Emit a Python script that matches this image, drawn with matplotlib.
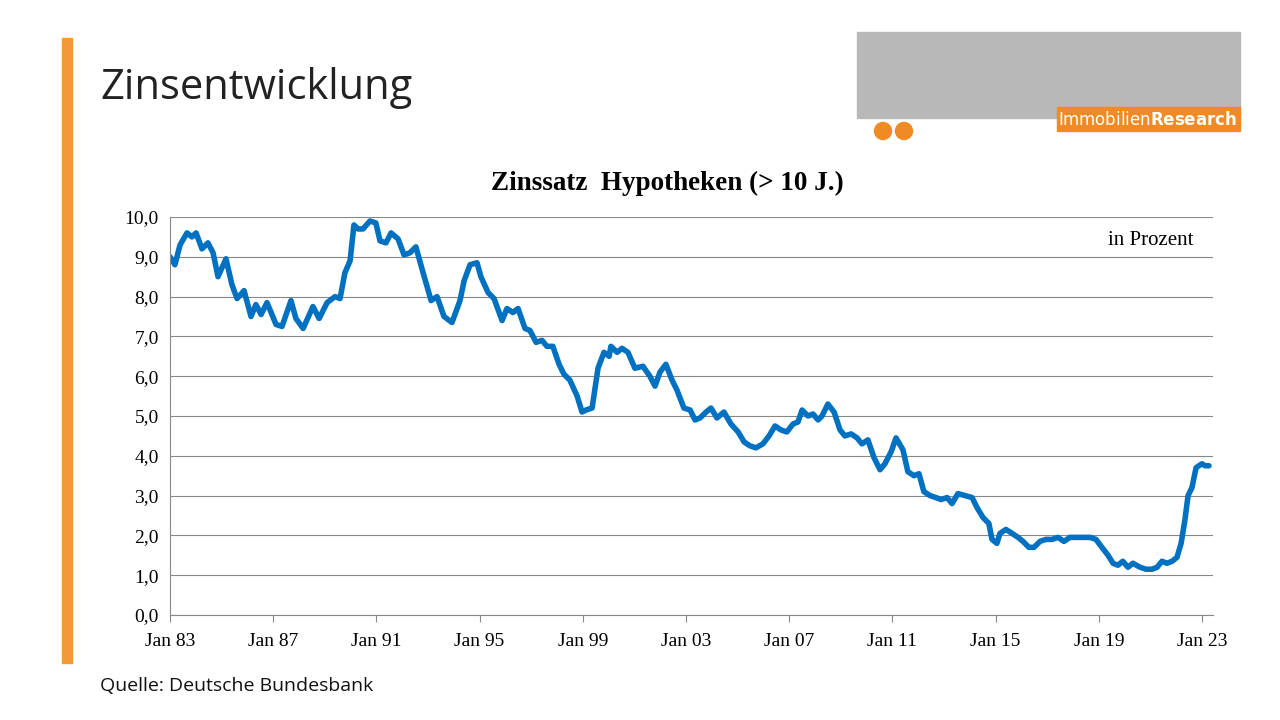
import matplotlib
matplotlib.use("Agg")
import matplotlib.pyplot as plt
from matplotlib.patches import Rectangle, Ellipse

years_since_1983 = [0,.19,.39,.66,.85,1.01,1.24,1.47,1.67,1.86,2.17,2.40,2.60,2.87,3.14,3.33,3.53,3.76,4.11,4.34,4.69,4.88,5.16,5.54,5.78,6.09,6.40,6.59,6.78,6.98,7.13,7.29,7.48,7.75,7.98,8.14,8.37,8.57,8.84,9.07,9.30,9.53,9.81,10.12,10.35,10.62,10.93,11.24,11.40,11.63,11.90,12.05,12.33,12.56,12.87,13.06,13.29,13.49,13.76,13.95,14.19,14.42,14.61,14.84,15.08,15.27,15.50,15.78,15.97,16.12,16.36,16.59,16.82,17.02,17.09,17.33,17.52,17.75,18.02,18.33,18.60,18.80,18.99,19.22,19.46,19.65,19.92,20.16,20.35,20.54,20.78,20.97,21.20,21.47,21.74,22.02,22.25,22.48,22.71,22.98,23.22,23.45,23.68,23.91,24.15,24.34,24.50,24.73,24.92,25.12,25.27,25.50,25.74,25.97,26.16,26.40,26.63,26.82,27.05,27.29,27.52,27.71,27.95,28.14,28.41,28.60,28.84,29.03,29.22,29.46,29.69,29.88,30.12,30.31,30.54,30.81,31.09,31.28,31.51,31.74,31.86,32.05,32.17,32.40,32.64,32.87,33.06,33.29,33.49,33.72,33.95,34.19,34.42,34.65,34.88,35.12,35.39,35.66,35.89,36.12,36.36,36.55,36.74,36.93,37.13,37.32,37.60,37.83,38.06,38.26,38.45,38.64,38.84,39.03,39.19,39.34,39.46,39.61,39.77,39.88,40.00,40.12,40.27]
rates = [9.0,8.8,9.3,9.6,9.5,9.6,9.2,9.35,9.1,8.5,8.95,8.3,7.95,8.15,7.5,7.8,7.55,7.85,7.3,7.25,7.9,7.45,7.2,7.75,7.45,7.85,8.0,7.95,8.6,8.9,9.8,9.7,9.7,9.9,9.85,9.4,9.35,9.6,9.45,9.05,9.1,9.25,8.6,7.9,8.0,7.5,7.35,7.9,8.4,8.8,8.85,8.5,8.1,7.95,7.4,7.7,7.6,7.7,7.2,7.15,6.85,6.9,6.75,6.75,6.3,6.05,5.9,5.5,5.1,5.15,5.2,6.2,6.6,6.5,6.75,6.6,6.7,6.6,6.2,6.25,6.0,5.75,6.1,6.3,5.9,5.65,5.2,5.15,4.9,4.95,5.1,5.2,4.95,5.1,4.8,4.6,4.35,4.25,4.2,4.3,4.5,4.75,4.65,4.6,4.8,4.85,5.15,5.0,5.05,4.9,5.0,5.3,5.1,4.65,4.5,4.55,4.45,4.3,4.4,3.95,3.65,3.8,4.1,4.45,4.15,3.6,3.5,3.55,3.1,3.0,2.95,2.9,2.95,2.8,3.05,3.0,2.95,2.7,2.45,2.3,1.9,1.8,2.05,2.15,2.05,1.95,1.85,1.7,1.7,1.85,1.9,1.9,1.95,1.85,1.95,1.95,1.95,1.95,1.9,1.7,1.5,1.3,1.25,1.35,1.2,1.3,1.2,1.15,1.15,1.2,1.35,1.3,1.35,1.45,1.8,2.4,3.0,3.2,3.7,3.75,3.8,3.75,3.75]
tick_labels = ["Jan 83","Jan 87","Jan 91","Jan 95","Jan 99","Jan 03","Jan 07","Jan 11","Jan 15","Jan 19","Jan 23"]
y_ticks = [0,1,2,3,4,5,6,7,8,9,10]

fig = plt.figure(figsize=(12.8, 7.2), dpi=100)
fig.patch.set_facecolor("white")

fig.add_artist(Rectangle((62/1280, 1-663/720), 10/1280, 625/720, transform=fig.transFigure, color="#F4983A"))
fig.text(100/1280, 1-88/720, "Zinsentwicklung", fontsize=30, fontfamily="Open Sans", va="center", ha="left", color="#222222")
fig.text(100/1280, 1-686/720, "Quelle: Deutsche Bundesbank", fontsize=14, fontfamily="Open Sans", va="center", ha="left", color="#111111")

fig.add_artist(Rectangle((857/1280, 1-118/720), 383/1280, 86/720, transform=fig.transFigure, color="#B8B8B8"))
fig.add_artist(Rectangle((1057/1280, 1-131/720), 183/1280, 24/720, transform=fig.transFigure, color="#F08A24"))
fig.text(1148/1280, 1-120/720, "Immobilien$\\bf{Research}$", fontsize=12, color="white", ha="center", va="center", fontfamily="DejaVu Sans")
for cx in (883, 904):
    fig.add_artist(Ellipse((cx/1280, 1-131/720), 17/1280, 17/720, transform=fig.transFigure, color="#F08A24"))

ax = fig.add_axes([170/1280, 1-615/720, 1043/1280, 398/720])
x = [1983 + t for t in years_since_1983]
ax.plot(x, rates, color="#0070C0", lw=4, solid_joinstyle="round", solid_capstyle="round")
ax.set_xlim(1983, 1983 + 1043/25.8)
ax.set_ylim(0, 10)
ax.set_yticks(y_ticks)
ax.set_yticklabels([f"{v},0" for v in y_ticks], fontfamily="Liberation Serif", fontsize=14)
ax.set_xticks([1983 + 4*i for i in range(len(tick_labels))])
ax.set_xticklabels(tick_labels, fontfamily="Liberation Serif", fontsize=14)
ax.grid(axis="y", color="#888888", lw=0.8)
ax.set_axisbelow(True)
for s in ("top", "right"):
    ax.spines[s].set_visible(False)
ax.spines["left"].set_color("#888888")
ax.spines["bottom"].set_color("#888888")
ax.tick_params(axis="y", length=0, pad=8)
ax.tick_params(axis="x", length=5, color="#888888", pad=8)
ax.text(0.94, 0.94, "in Prozent", transform=ax.transAxes, ha="center", va="center", fontfamily="Liberation Serif", fontsize=15)
fig.text(667/1280, 1-183/720, "Zinssatz  Hypotheken (> 10 J.)", ha="center", va="center", fontfamily="Liberation Serif", fontsize=19.5, fontweight="bold")

fig.savefig("out.png", dpi=100)
